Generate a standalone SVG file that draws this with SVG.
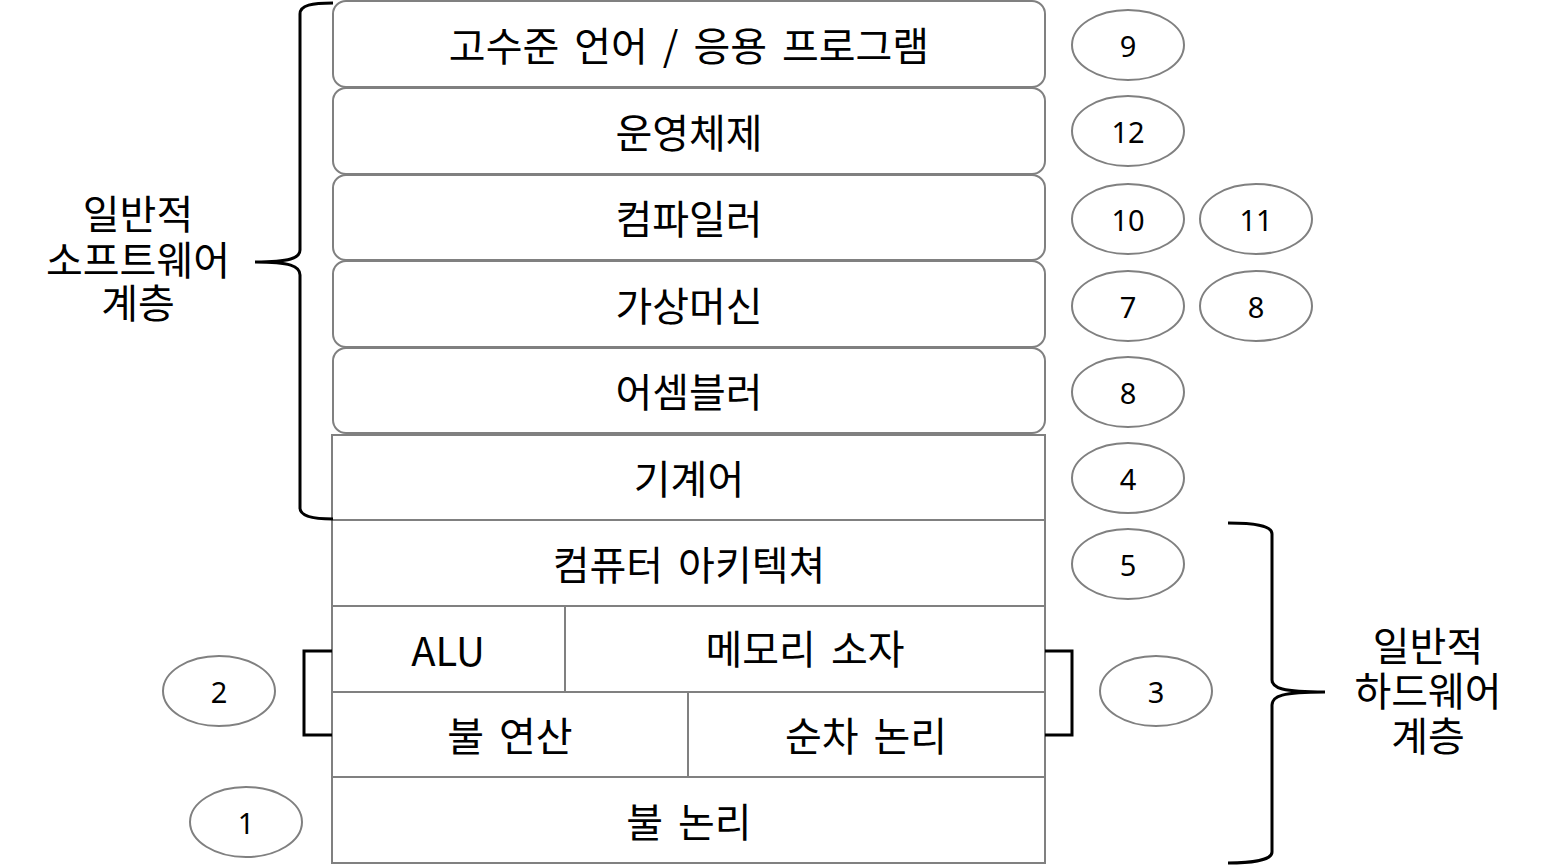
<svg xmlns="http://www.w3.org/2000/svg" width="1566" height="867" viewBox="0 0 1566 867">
<style>
.box{fill:#fff;stroke:#808080;stroke-width:2}
.ell{fill:#fff;stroke:#808080;stroke-width:2}
.lbl{font-family:"Noto Sans CJK KR","Noto Sans",sans-serif;font-size:40px;word-spacing:6px;fill:#000;text-anchor:middle;dominant-baseline:central}
.side{font-family:"Noto Sans CJK KR","Noto Sans",sans-serif;font-size:40px;fill:#000;text-anchor:middle}
.num{font-family:"Noto Sans","Noto Sans CJK KR",sans-serif;font-size:29px;fill:#000;text-anchor:middle;dominant-baseline:central}
.br{fill:none;stroke:#000;stroke-width:3}
</style>
<rect width="1566" height="867" fill="#fff"/>
<g id="n-hll"><rect class="box" x="333" y="1" width="712" height="86" rx="13"/><text class="lbl" x="689" y="44">고수준 언어 / 응용 프로그램</text></g>
<g id="n-os"><rect class="box" x="333" y="88" width="712" height="86" rx="13"/><text class="lbl" x="689" y="131">운영체제</text></g>
<g id="n-compiler"><rect class="box" x="333" y="175" width="712" height="85" rx="13"/><text class="lbl" x="689" y="217">컴파일러</text></g>
<g id="n-vm"><rect class="box" x="333" y="261" width="712" height="86" rx="13"/><text class="lbl" x="689" y="304">가상머신</text></g>
<g id="n-asm"><rect class="box" x="333" y="348" width="712" height="85" rx="13"/><text class="lbl" x="689" y="390">어셈블러</text></g>
<g id="n-ml"><rect class="box" x="332" y="435" width="713" height="85"/><text class="lbl" x="689" y="477">기계어</text></g>
<g id="n-arch"><rect class="box" x="332" y="520" width="713" height="86"/><text class="lbl" x="689" y="563">컴퓨터 아키텍쳐</text></g>
<g id="n-alu"><rect class="box" x="332" y="606" width="233" height="86"/><text class="lbl" x="448" y="649">ALU</text></g>
<g id="n-mem"><rect class="box" x="565" y="606" width="480" height="86"/><text class="lbl" x="805" y="647">메모리 소자</text></g>
<g id="n-boolop"><rect class="box" x="332" y="692" width="356" height="85"/><text class="lbl" x="510" y="734">불 연산</text></g>
<g id="n-seq"><rect class="box" x="688" y="692" width="357" height="85"/><text class="lbl" x="866" y="734">순차 논리</text></g>
<g id="n-bool"><rect class="box" x="332" y="777" width="713" height="86"/><text class="lbl" x="689" y="820">불 논리</text></g>
<g id="e9"><ellipse class="ell" cx="1128" cy="45" rx="56" ry="35"/><text class="num" x="1128" y="45">9</text></g>
<g id="e12"><ellipse class="ell" cx="1128" cy="131" rx="56" ry="35"/><text class="num" x="1128" y="131">12</text></g>
<g id="e10"><ellipse class="ell" cx="1128" cy="219" rx="56" ry="35"/><text class="num" x="1128" y="219">10</text></g>
<g id="e11"><ellipse class="ell" cx="1256" cy="219" rx="56" ry="35"/><text class="num" x="1256" y="219">11</text></g>
<g id="e7"><ellipse class="ell" cx="1128" cy="306" rx="56" ry="35"/><text class="num" x="1128" y="306">7</text></g>
<g id="e8a"><ellipse class="ell" cx="1256" cy="306" rx="56" ry="35"/><text class="num" x="1256" y="306">8</text></g>
<g id="e8b"><ellipse class="ell" cx="1128" cy="392" rx="56" ry="35"/><text class="num" x="1128" y="392">8</text></g>
<g id="e4"><ellipse class="ell" cx="1128" cy="478" rx="56" ry="35"/><text class="num" x="1128" y="478">4</text></g>
<g id="e5"><ellipse class="ell" cx="1128" cy="564" rx="56" ry="35"/><text class="num" x="1128" y="564">5</text></g>
<g id="e3"><ellipse class="ell" cx="1156" cy="691" rx="56" ry="35"/><text class="num" x="1156" y="691">3</text></g>
<g id="e2"><ellipse class="ell" cx="219" cy="691" rx="56" ry="35"/><text class="num" x="219" y="691">2</text></g>
<g id="e1"><ellipse class="ell" cx="246" cy="822" rx="56" ry="35"/><text class="num" x="246" y="822">1</text></g>
<g id="sw-label"><text class="side" x="138" y="229">일반적</text><text class="side" x="138" y="275">소프트웨어</text><text class="side" x="138" y="318">계층</text></g>
<g id="hw-label"><text class="side" x="1428" y="661">일반적</text><text class="side" x="1428" y="706">하드웨어</text><text class="side" x="1428" y="751">계층</text></g>
<g id="connectors">
<path class="br" d="M333,3 C312,3 300,5 300,14 L300,250 C300,258 290,262 255,262 C290,262 300,266 300,275 L300,508 C300,516 312,519 333,519"/>
<path class="br" d="M1228,523 C1252,523 1272,525 1272,534 L1272,680 C1272,688 1282,692 1325,692 C1282,692 1272,696 1272,705 L1272,852 C1272,860 1252,863 1228,863"/>
<path class="br" d="M332,651 L304,651 L304,735 L332,735"/>
<path class="br" d="M1045,651 L1072,651 L1072,735 L1045,735"/>
</g>
</svg>
